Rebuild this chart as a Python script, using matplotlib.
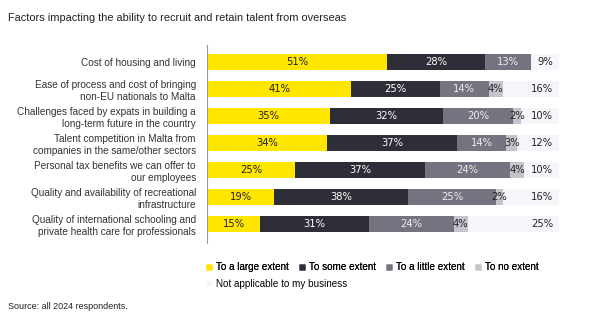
import matplotlib.pyplot as plt
import numpy as np
from matplotlib.lines import Line2D

categories = [
    "Cost of housing and living",
    "Ease of process and cost of bringing\nnon-EU nationals to Malta",
    "Challenges faced by expats in building a\nlong-term future in the country",
    "Talent competition in Malta from\ncompanies in the same/other sectors",
    "Personal tax benefits we can offer to\nour employees",
    "Quality and availability of recreational\ninfrastructure",
    "Quality of international schooling and\nprivate health care for professionals",
]
series = ["To a large extent", "To some extent", "To a little extent",
          "To no extent", "Not applicable to my business"]
large = [51, 41, 35, 34, 25, 19, 15]
some = [28, 25, 32, 37, 37, 38, 31]
little = [13, 14, 20, 14, 24, 25, 24]
none_ = [0, 4, 2, 3, 4, 2, 4]
na = [9, 16, 10, 12, 10, 16, 25]

colors = ["#FFE600", "#2E2E38", "#747480", "#C4C4CD", "#F6F6FA"]
text_colors = ["#222222", "#FFFFFF", "#EEEEEE", "#222222", "#222222"]

fig = plt.figure(figsize=(6.02, 3.25), dpi=100)
ax = fig.add_axes([0.344, 0.252, 0.585, 0.61])

y = np.arange(len(categories))
left = np.zeros(len(categories))
for vals, col, tcol in zip([large, some, little, none_], colors, text_colors):
    vals = np.array(vals, dtype=float)
    ax.barh(y, vals, left=left, height=0.6, color=col, edgecolor="none")
    for yi, v, l in zip(y, vals, left):
        if v > 0:
            ax.text(l + v / 2, yi, f"{int(v)}%", ha="center", va="center",
                    fontsize=7.2, color=tcol, family="DejaVu Sans")
    left += vals

# not applicable fills the rest of the row, label sits at the right end
ax.barh(y, 100 - left, left=left, height=0.6, color=colors[4], edgecolor="none")
for yi, v in zip(y, na):
    ax.text(98.3, yi, f"{v}%", ha="right", va="center",
            fontsize=7.2, color="#222222", family="DejaVu Sans")

ax.set_ylim(6.7, -0.63)
ax.set_xlim(0, 100)
ax.set_yticks(y)
ax.set_yticklabels(categories, fontsize=7.2, family="Liberation Sans", color="#333333")
ax.tick_params(axis="y", length=0, pad=8)
ax.set_xticks([])
for s in ["top", "right", "bottom"]:
    ax.spines[s].set_visible(False)
ax.spines["left"].set_color("#999999")
ax.spines["left"].set_linewidth(0.8)

fig.text(0.013, 0.945, "Factors impacting the ability to recruit and retain talent from overseas",
         fontsize=7.9, family="Liberation Sans", color="#222222", va="center")
fig.text(0.013, 0.058, "Source: all 2024 respondents.", fontsize=6.5,
         family="Liberation Sans", color="#222222", va="center")

handles = [Line2D([], [], marker="s", linestyle="none", markersize=4,
                  markerfacecolor=c, markeredgecolor="none") for c in colors]
leg_kw = dict(loc="upper left", frameon=False, handletextpad=0.35, handlelength=0.7,
              columnspacing=1.0, borderaxespad=0,
              prop={"family": "Liberation Sans", "size": 7.1})
leg1 = fig.legend(handles[:4], series[:4], ncol=4,
                  bbox_to_anchor=(0.335, 0.205), **leg_kw)
fig.add_artist(leg1)
fig.legend(handles[4:], series[4:], ncol=1,
           bbox_to_anchor=(0.335, 0.155), **leg_kw)

fig.savefig("out.png", dpi=100, facecolor="white")
